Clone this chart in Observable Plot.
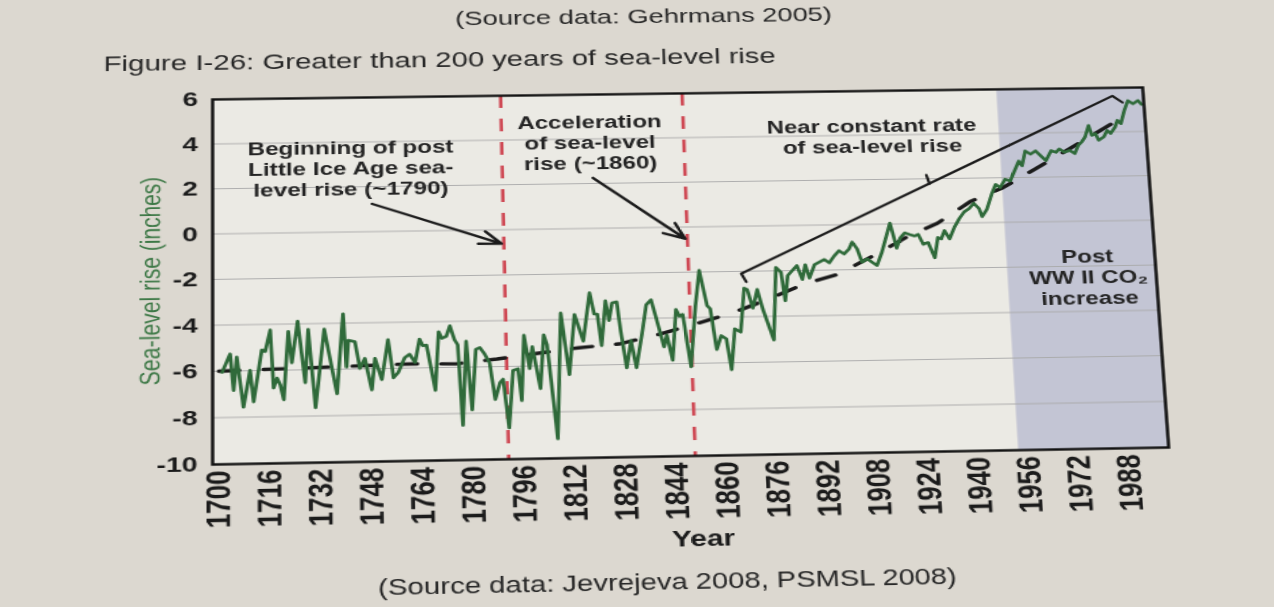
<!DOCTYPE html>
<html>
<head>
<meta charset="utf-8">
<script src="https://cdn.jsdelivr.net/npm/d3@7"></script>
<script src="https://cdn.jsdelivr.net/npm/@observablehq/plot@0.6"></script>
<style>
  html, body { margin: 0; padding: 0; width: 1274px; height: 607px; overflow: hidden; background: #dcd8d0; }
  #page { position: absolute; left: 0; top: 0; width: 944px; height: 607px;
          transform-origin: 0 0 0;
          font-family: "Liberation Sans", Arial, sans-serif; color: #262626; }
  .t { position: absolute; white-space: nowrap; line-height: 1; }
  #top { left: 0; width: 974px; text-align: center; top: 8px; font-size: 21px; }
  #title { left: 75px; top: 51px; font-size: 22.3px; }
  #chart { position: absolute; left: 0; top: 80px; }
  #cap { left: 0; width: 982px; text-align: center; top: 575px; font-size: 21.5px; }
</style>
</head>
<body>
<div id="page">
  <div class="t" id="top">(Source data: Gehrmans 2005)</div>
  <div class="t" id="title">Figure I-26: Greater than 200 years of sea-level rise</div>
  <div id="chart"></div>
  <div class="t" id="cap">(Source data: Jevrejeva 2008, PSMSL 2008)</div>
</div>
<script>
// ---- data ----
const seaYears = [
  1701.0,1703.5,1704.6,1705.6,1707.7,1709.8,1710.9,1713.5,1714.6,1716.2,1717.2,1718.3,1719.3,1720.4,1721.9,
  1723.0,1724.9,1727.2,1728.2,1730.4,1733.3,1737.2,1739.3,1740.3,1740.9,1743.0,1744.5,1746.1,1748.2,1749.3,
  1751.4,1753.5,1755.1,1756.6,1758.7,1760.3,1762.0,1763.5,1764.5,1765.7,1768.3,1769.6,1770.6,1772.0,1773.2,
  1774.6,1775.6,1776.8,1778.3,1779.8,1781.3,1782.6,1784.1,1785.6,1787.2,1788.8,1789.8,1791.4,1793.0,1794.6,
  1795.6,1796.7,1798.3,1799.3,1801.6,1803.0,1804.0,1806.7,1808.6,1810.9,1813.0,1815.6,1818.0,1819.3,1820.3,
  1821.4,1823.0,1824.0,1825.1,1826.6,1827.6,1829.2,1830.8,1832.3,1834.4,1836.0,1837.6,1839.2,1841.3,1842.3,
  1843.9,1845.5,1846.5,1847.6,1849.7,1851.8,1853.4,1855.5,1856.5,1858.1,1859.7,1861.3,1862.6,1864.1,1866.0,
  1867.6,1868.6,1870.2,1871.8,1873.4,1876.5,1878.1,1879.7,1880.7,1881.8,1884.9,1886.5,1887.6,1888.8,1890.6,
  1893.8,1895.4,1897.1,1898.7,1900.3,1902.0,1903.1,1904.6,1906.0,1907.7,1909.2,1910.8,1912.6,1914.4,1915.6,
  1916.6,1917.4,1918.7,1920.3,1921.9,1923.4,1924.6,1926.1,1927.7,1929.6,1930.9,1932.0,1933.2,1934.7,1936.5,
  1938.2,1939.9,1941.6,1943.2,1944.8,1945.7,1947.4,1949.3,1950.7,1952.1,1953.9,1955.5,1957.4,1958.7,1959.7,
  1961.0,1962.7,1964.4,1966.0,1967.6,1969.5,1971.1,1972.2,1973.8,1975.6,1977.2,1978.5,1979.7,1980.9,1982.3,
  1983.2,1984.4,1985.3,1987.1,1988.3,1989.4,1991.0,1991.9,1993.0,1994.4,1995.8,1997.4,1999.1,2000.2
];
const seaValues = [
  -6.05,-5.26,-6.84,-5.40,-7.57,-5.98,-7.35,-5.11,-5.18,-4.25,-6.77,-6.34,-6.63,-7.28,-4.32,
  -5.69,-3.88,-6.56,-4.25,-7.64,-4.25,-7.06,-3.60,-5.91,-4.75,-4.82,-5.98,-5.55,-6.92,-5.55,
  -6.48,-4.75,-6.41,-6.19,-5.55,-5.40,-5.76,-4.75,-5.04,-5.02,-6.98,-4.44,-4.73,-4.65,-4.19,
  -4.80,-5.02,-8.51,-4.87,-7.85,-5.24,-5.16,-5.45,-5.82,-7.42,-6.69,-6.55,-8.65,-6.18,-6.11,
  -7.49,-4.65,-6.11,-5.16,-6.98,-4.65,-5.09,-9.16,-3.71,-6.40,-3.78,-4.95,-2.84,-3.78,-3.78,
  -5.16,-3.20,-4.07,-3.30,-3.26,-4.52,-6.15,-4.96,-6.15,-4.67,-3.41,-3.19,-4.07,-5.26,-4.74,
  -5.85,-3.63,-3.93,-3.85,-6.15,-3.48,-1.93,-3.48,-3.63,-5.41,-4.81,-4.96,-6.30,-4.52,-4.67,
  -2.74,-2.81,-3.63,-2.81,-3.70,-5.04,-1.85,-2.07,-3.33,-2.22,-1.78,-2.40,-1.75,-2.35,-1.75,
  -1.53,-1.68,-1.38,-1.15,-1.30,-1.08,-0.78,-1.08,-1.68,-1.53,-1.68,-1.83,-1.23,-0.48,0.04,
  -0.55,-1.08,-0.63,-0.40,-0.48,-0.55,-0.48,-0.93,-0.85,-1.53,-0.63,-0.70,-0.33,-0.70,-0.18,
  0.19,0.49,0.64,0.87,0.64,0.27,0.60,1.30,1.70,1.56,1.93,1.85,2.37,2.74,2.52,
  3.19,3.04,3.19,2.96,2.74,3.19,3.11,3.26,3.11,3.19,3.04,3.41,3.56,3.78,4.30,
  3.85,3.93,3.63,3.78,4.07,3.93,4.22,4.52,4.37,4.96,5.41,5.26,5.41,5.23
];
const trendYears  = [1700, 1760, 1775, 1788, 1801, 1814, 1827, 1839, 1851, 1863, 1875, 1887, 1898, 1910, 1922, 1931, 1942, 1953, 1963, 1993];
const trendValues = [-6.0, -5.82, -5.85, -5.67, -5.45, -5.24, -5.1, -4.74, -4.3, -3.85, -3.26, -2.6, -2.2, -1.38, -0.51, 0.0, 0.94, 1.55, 2.3, 4.6];

const markerYears = [1791, 1850];          // red dashed lines
const shadeStart = [1953];                  // post WW II shading
const xDomain = [1698, 2001];
const yDomain = [-10, 6];
const xTicks = [1700,1716,1732,1748,1764,1780,1796,1812,1828,1844,1860,1876,1892,1908,1924,1940,1956,1972,1988];
const yTicks = [6, 4, 2, 0, -2, -4, -6, -8, -10];

const noteTexts  = ["Beginning of post\nLittle Ice Age sea-\nlevel rise (~1790)",
                    "Acceleration\nof sea-level\nrise (~1860)",
                    "Near constant rate\nof sea-level rise",
                    "Post\nWW II CO\u2082\nincrease"];
const noteYears  = [1742.3, 1819.6, 1911.3, 1979.0];
const noteValues = [2.85, 3.85, 3.96, -2.47];

const arrowFromYears  = [1749.0, 1820.2];
const arrowFromValues = [1.23, 2.25];
const arrowToYears    = [1790.3, 1849.3];
const arrowToValues   = [-0.62, -0.52];

const bracketYears  = [1868.4, 1866.9, 1990.8, 1994.0];
const bracketValues = [-2.47, -2.10, 5.63, 5.33];
const bracketTickYears  = [1928.3, 1929.2];
const bracketTickValues = [2.17, 1.77];

const yLabel = "Sea-level rise (inches)";
const xLabel = "Year";

// ---- build tables ----
const seaRows = seaYears.map((year, i) => ({year, value: seaValues[i]}));
const trendRows = trendYears.map((year, i) => ({year, value: trendValues[i]}));
const shadeRows = shadeStart.map(s => ({start: s, end: xDomain[1]}));
const noteRows = noteTexts.map((text, i) => ({text, year: noteYears[i], value: noteValues[i]}));
const arrowRows = arrowFromYears.map((x1, i) => ({x1, y1: arrowFromValues[i], x2: arrowToYears[i], y2: arrowToValues[i]}));
const bracketRows = bracketYears.map((year, i) => ({year, value: bracketValues[i]}));
const bracketTickRows = bracketTickYears.map((year, i) => ({year, value: bracketTickValues[i]}));

const ink = "#1b1b1b";
const chart = Plot.plot({
  width: 944,
  height: 480,
  marginTop: 19,
  marginBottom: 97,
  marginLeft: 157,
  marginRight: 76,
  style: {background: "transparent", fontFamily: "'Liberation Sans', Arial, sans-serif", overflow: "visible"},
  x: {domain: xDomain},
  y: {domain: yDomain},
  marks: [
    Plot.frame({fill: "#ebeae4"}),
    Plot.rect(shadeRows, {x1: "start", x2: "end", fill: "#c3c5d4"}),
    Plot.gridY(yTicks, {stroke: "#a8a8a8", strokeOpacity: 0.9, strokeWidth: 1}),
    Plot.ruleX(markerYears, {stroke: "#cf4a55", strokeWidth: 2.6, strokeDasharray: "13,11"}),
    Plot.line(trendRows, {x: "year", y: "value", stroke: ink, strokeWidth: 3.4, strokeDasharray: "15,18"}),
    Plot.line(seaRows, {x: "year", y: "value", stroke: "#2f6a3a", strokeWidth: 2.7, strokeLinejoin: "round"}),
    Plot.line(bracketRows, {x: "year", y: "value", stroke: ink, strokeWidth: 2.2}),
    Plot.line(bracketTickRows, {x: "year", y: "value", stroke: ink, strokeWidth: 2.2}),
    Plot.arrow(arrowRows, {x1: "x1", y1: "y1", x2: "x2", y2: "y2", stroke: ink, strokeWidth: 2.4, headLength: 11, headAngle: 45}),
    Plot.text(noteRows, {x: "year", y: "value", text: "text", fontSize: 18.3, fontWeight: "bold", fill: "#242424", lineHeight: 1.15, textAnchor: "middle"}),
    Plot.axisX(xTicks, {tickSize: 0, tickPadding: 6, tickRotate: -90, fontSize: 25, fontWeight: "bold", fill: ink, tickFormat: d => String(d), label: null}),
    Plot.axisY(yTicks, {tickSize: 0, tickPadding: 11, fontSize: 21, fontWeight: "bold", fill: ink, tickFormat: d => (d < 0 ? "-" + Math.abs(d) : String(d)), label: null}),
    Plot.text([yLabel], {frameAnchor: "left", textAnchor: "middle", dx: -46, rotate: -90, fontSize: 21, fill: "#3d7846"}),
    Plot.text([xLabel], {frameAnchor: "bottom", dx: 5, dy: 87, fontSize: 22, fontWeight: "bold", fill: ink}),
    Plot.frame({stroke: "#111111", strokeWidth: 2.4})
  ]
});
document.getElementById("chart").appendChild(chart);

// ---- the photographed page is seen in perspective: map the plot frame onto its corners ----
const frameSrc = [[157, 99], [868, 99], [868, 463], [157, 463]];
const frameDst = [[212, 99], [1142, 87], [1168, 447], [212, 464]];
function homography(src, dst) {
  const A = [], b = [];
  for (let i = 0; i < 4; i++) {
    const [x, y] = src[i], [u, v] = dst[i];
    A.push([x, y, 1, 0, 0, 0, -x * u, -y * u]); b.push(u);
    A.push([0, 0, 0, x, y, 1, -x * v, -y * v]); b.push(v);
  }
  const n = 8;
  for (let c = 0; c < n; c++) {
    let p = c;
    for (let r = c + 1; r < n; r++) if (Math.abs(A[r][c]) > Math.abs(A[p][c])) p = r;
    [A[c], A[p]] = [A[p], A[c]]; [b[c], b[p]] = [b[p], b[c]];
    for (let r = 0; r < n; r++) {
      if (r === c) continue;
      const f = A[r][c] / A[c][c];
      for (let k = c; k < n; k++) A[r][k] -= f * A[c][k];
      b[r] -= f * b[c];
    }
  }
  return A.map((row, i) => b[i] / row[i]);
}
const h = homography(frameSrc, frameDst);
document.getElementById("page").style.transform =
  `matrix3d(${h[0]},${h[3]},0,${h[6]},${h[1]},${h[4]},0,${h[7]},0,0,1,0,${h[2]},${h[5]},0,1)`;
</script>
</body>
</html>
